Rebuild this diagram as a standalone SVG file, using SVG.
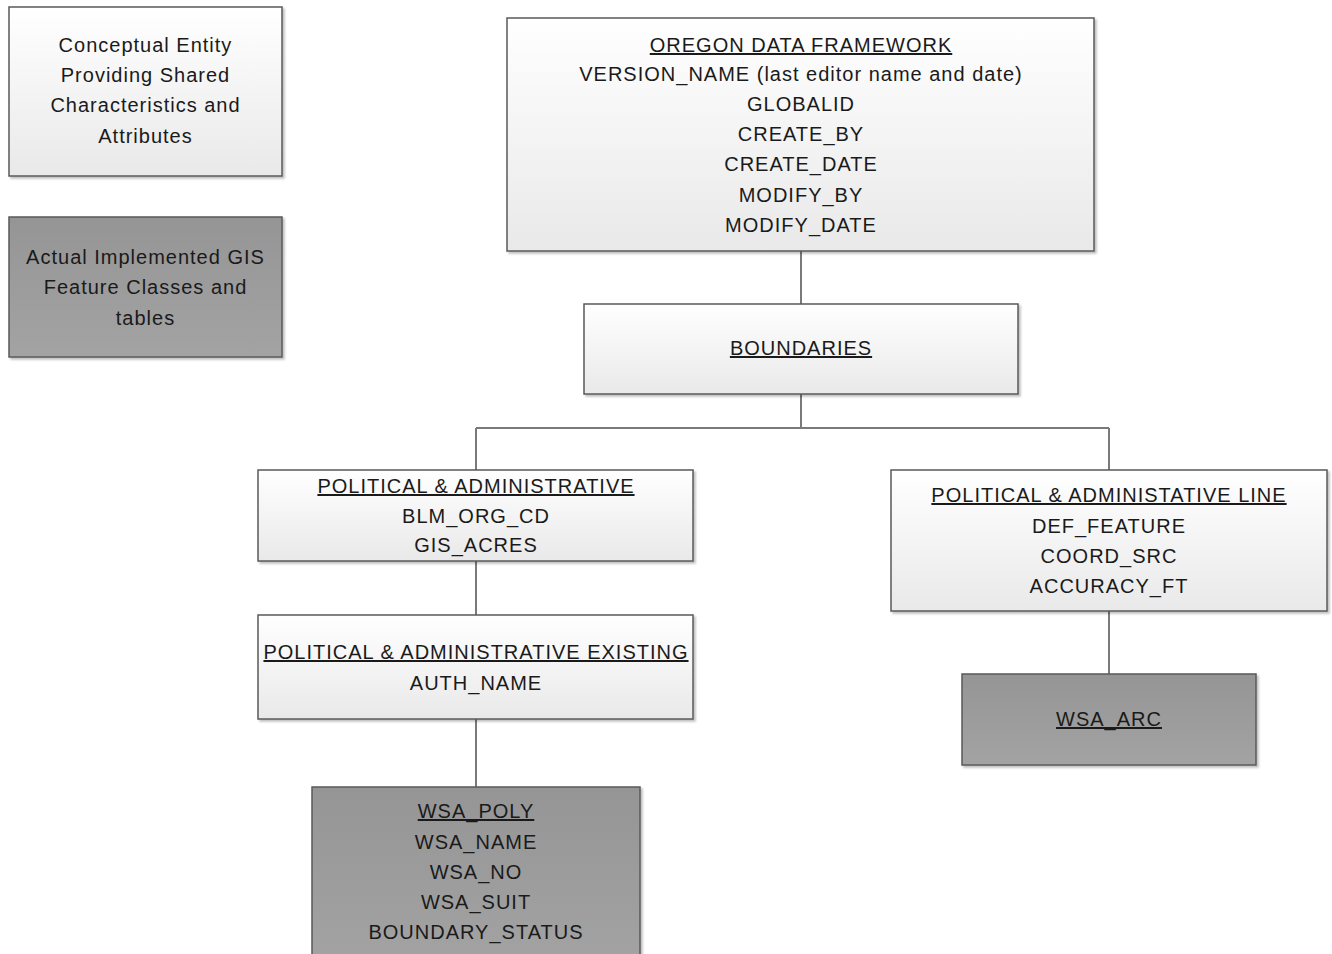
<svg xmlns="http://www.w3.org/2000/svg" width="1332" height="954" viewBox="0 0 1332 954">
<defs>
<linearGradient id="gLight" x1="0" y1="0" x2="0" y2="1">
<stop offset="0" stop-color="#ffffff"/>
<stop offset="1" stop-color="#e9e9e9"/>
</linearGradient>
<linearGradient id="gDark" x1="0" y1="0" x2="0" y2="1">
<stop offset="0" stop-color="#959595"/>
<stop offset="1" stop-color="#a3a3a3"/>
</linearGradient>
<filter id="sh" x="-5%" y="-5%" width="115%" height="115%">
<feDropShadow dx="2" dy="2" stdDeviation="1.2" flood-color="#000" flood-opacity="0.25"/>
</filter>
</defs>
<style>
.box{stroke:#5a5a5a;stroke-width:1.5;filter:url(#sh)}
.light{fill:url(#gLight)}
.dark{fill:url(#gDark)}
text{font-family:"Liberation Sans",Arial,sans-serif;font-size:20px;letter-spacing:1px;fill:#1a1a1a;text-anchor:middle}
.t{text-decoration:underline}
.conn{fill:none;stroke:#7a7a7a;stroke-width:2}
</style>
<rect width="1332" height="954" fill="#ffffff"/>

<g id="connectors">
<path class="conn" d="M801 251 V304"/>
<path class="conn" d="M801 394 V428 M476 428 H1109 M476 428 V470 M1109 428 V470"/>
<path class="conn" d="M476 561 V615"/>
<path class="conn" d="M476 719 V787"/>
<path class="conn" d="M1109 611 V674"/>
</g>

<g id="legend-conceptual">
<rect class="box light" x="9" y="7" width="273" height="169"/>
<text x="145.5" y="52">Conceptual Entity</text>
<text x="145.5" y="82">Providing Shared</text>
<text x="145.5" y="112">Characteristics and</text>
<text x="145.5" y="143">Attributes</text>
</g>

<g id="legend-implemented">
<rect class="box dark" x="9" y="217" width="273" height="140"/>
<text x="145.5" y="264">Actual Implemented GIS</text>
<text x="145.5" y="294">Feature Classes and</text>
<text x="145.5" y="325">tables</text>
</g>

<g id="oregon-data-framework">
<rect class="box light" x="507" y="18" width="587" height="233"/>
<text class="t" x="801" y="52">OREGON DATA FRAMEWORK</text>
<text x="801" y="81">VERSION_NAME (last editor name and date)</text>
<text x="801" y="111">GLOBALID</text>
<text x="801" y="141">CREATE_BY</text>
<text x="801" y="171">CREATE_DATE</text>
<text x="801" y="202">MODIFY_BY</text>
<text x="801" y="232">MODIFY_DATE</text>
</g>

<g id="boundaries">
<rect class="box light" x="584" y="304" width="434" height="90"/>
<text class="t" x="801" y="355">BOUNDARIES</text>
</g>

<g id="political-administrative">
<rect class="box light" x="258" y="470" width="435" height="91"/>
<text class="t" x="476" y="493">POLITICAL &amp; ADMINISTRATIVE</text>
<text x="476" y="523">BLM_ORG_CD</text>
<text x="476" y="552">GIS_ACRES</text>
</g>

<g id="political-administrative-line">
<rect class="box light" x="891" y="470" width="436" height="141"/>
<text class="t" x="1109" y="502">POLITICAL &amp; ADMINISTATIVE LINE</text>
<text x="1109" y="533">DEF_FEATURE</text>
<text x="1109" y="563">COORD_SRC</text>
<text x="1109" y="593">ACCURACY_FT</text>
</g>

<g id="political-administrative-existing">
<rect class="box light" x="258" y="615" width="435" height="104"/>
<text class="t" x="476" y="659">POLITICAL &amp; ADMINISTRATIVE EXISTING</text>
<text x="476" y="690">AUTH_NAME</text>
</g>

<g id="wsa-arc">
<rect class="box dark" x="962" y="674" width="294" height="91"/>
<text class="t" x="1109" y="726">WSA_ARC</text>
</g>

<g id="wsa-poly">
<rect class="box dark" x="312" y="787" width="328" height="180"/>
<text class="t" x="476" y="818">WSA_POLY</text>
<text x="476" y="849">WSA_NAME</text>
<text x="476" y="879">WSA_NO</text>
<text x="476" y="909">WSA_SUIT</text>
<text x="476" y="939">BOUNDARY_STATUS</text>
</g>
</svg>
